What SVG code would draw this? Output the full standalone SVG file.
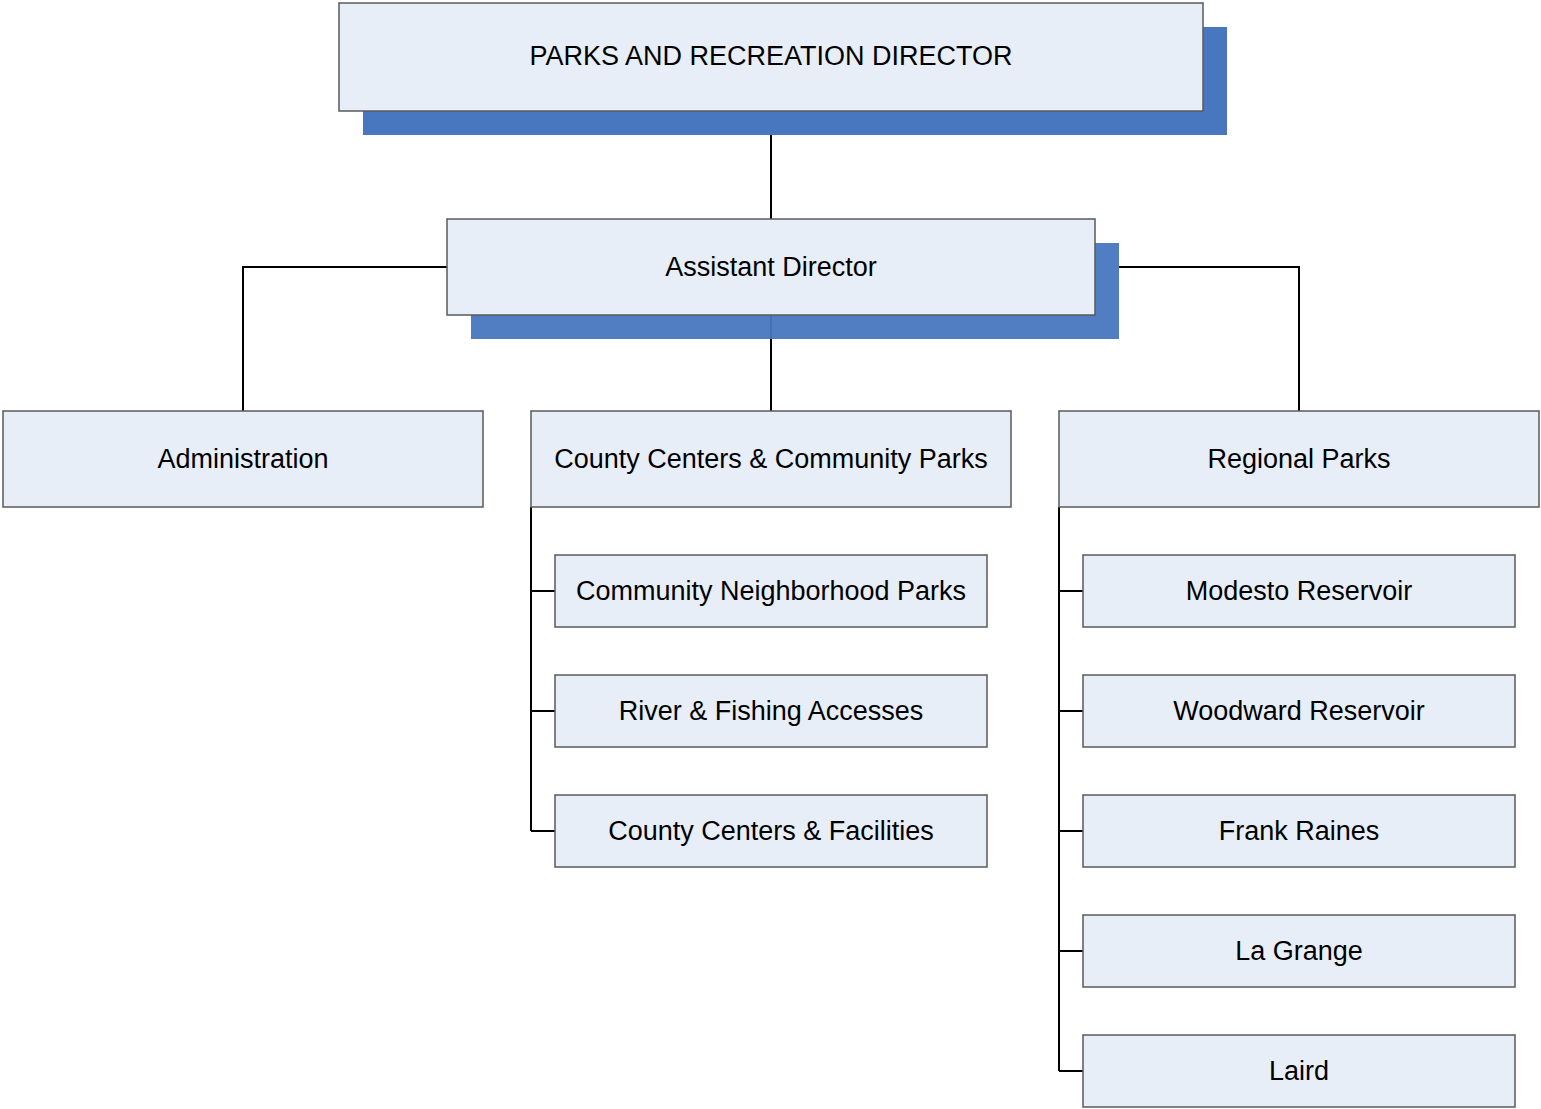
<svg xmlns="http://www.w3.org/2000/svg" width="1541" height="1109" viewBox="0 0 1541 1109">
  <style>
    .box { fill: #E8EEF8; stroke: #5a5a5a; stroke-width: 1.5; }
    .shadow { fill: #4877C0; }
    .wire { fill: none; stroke: #000; stroke-width: 2; }
    .lbl { font-family: "Liberation Sans", Arial, sans-serif; font-size: 27px; fill: #000; text-anchor: middle; }
  </style>
  <rect width="1541" height="1109" fill="#fff"/>

  <!-- connectors -->
  <g id="connectors">
    <path class="wire" d="M771 135 V219"/>
    <path class="wire" d="M771 315 V411"/>
    <path class="wire" d="M447 267 H243 V411"/>
    <path class="wire" d="M1119 267 H1299 V411"/>
    <path class="wire" d="M531 507 V831 M531 591 H555 M531 711 H555 M531 831 H555"/>
    <path class="wire" d="M1059 507 V1071 M1059 591 H1083 M1059 711 H1083 M1059 831 H1083 M1059 951 H1083 M1059 1071 H1083"/>
  </g>

  <g id="director">
    <rect class="shadow" x="363" y="27" width="864" height="108"/>
    <rect class="box" x="339" y="3" width="864" height="108"/>
    <text class="lbl" x="771" y="65">PARKS AND RECREATION DIRECTOR</text>
  </g>

  <g id="assistant">
    <rect class="shadow" x="471" y="243" width="648" height="96" opacity="0.95"/>
    <rect class="box" x="447" y="219" width="648" height="96"/>
    <text class="lbl" x="771" y="276">Assistant Director</text>
  </g>

  <g id="administration">
    <rect class="box" x="3" y="411" width="480" height="96"/>
    <text class="lbl" x="243" y="468">Administration</text>
  </g>

  <g id="county-centers">
    <rect class="box" x="531" y="411" width="480" height="96"/>
    <text class="lbl" x="771" y="468">County Centers &amp; Community Parks</text>
  </g>

  <g id="regional-parks">
    <rect class="box" x="1059" y="411" width="480" height="96"/>
    <text class="lbl" x="1299" y="468">Regional Parks</text>
  </g>

  <g id="neighborhood-parks">
    <rect class="box" x="555" y="555" width="432" height="72"/>
    <text class="lbl" x="771" y="600">Community Neighborhood Parks</text>
  </g>

  <g id="fishing-accesses">
    <rect class="box" x="555" y="675" width="432" height="72"/>
    <text class="lbl" x="771" y="720">River &amp; Fishing Accesses</text>
  </g>

  <g id="centers-facilities">
    <rect class="box" x="555" y="795" width="432" height="72"/>
    <text class="lbl" x="771" y="840">County Centers &amp; Facilities</text>
  </g>

  <g id="modesto-reservoir">
    <rect class="box" x="1083" y="555" width="432" height="72"/>
    <text class="lbl" x="1299" y="600">Modesto Reservoir</text>
  </g>

  <g id="woodward-reservoir">
    <rect class="box" x="1083" y="675" width="432" height="72"/>
    <text class="lbl" x="1299" y="720">Woodward Reservoir</text>
  </g>

  <g id="frank-raines">
    <rect class="box" x="1083" y="795" width="432" height="72"/>
    <text class="lbl" x="1299" y="840">Frank Raines</text>
  </g>

  <g id="la-grange">
    <rect class="box" x="1083" y="915" width="432" height="72"/>
    <text class="lbl" x="1299" y="960">La Grange</text>
  </g>

  <g id="laird">
    <rect class="box" x="1083" y="1035" width="432" height="72"/>
    <text class="lbl" x="1299" y="1080">Laird</text>
  </g>
</svg>
